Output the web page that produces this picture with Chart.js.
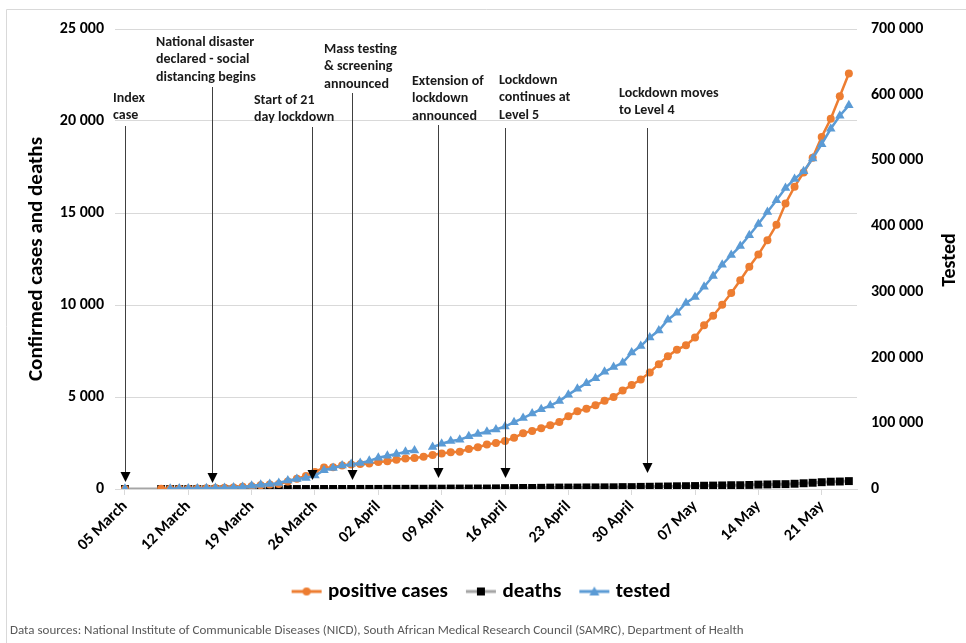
<!DOCTYPE html>
<html>
<head>
<meta charset="utf-8">
<script src="https://cdn.jsdelivr.net/npm/chart.js@4.4.0/dist/chart.umd.min.js"></script>
<style>
  html, body { margin: 0; padding: 0; background: #fff; }
</style>
</head>
<body>
<canvas id="grafica" width="966" height="643"></canvas>
<script>
const FONT = 'Carlito, Calibri, Lato, sans-serif';

// one value per day, day 0 = 05 March 2020 ... day 80 = 24 May 2020
const tickDays = [0, 7, 14, 21, 28, 35, 42, 49, 56, 63, 70, 77];
const tickLabels = ['05 March', '12 March', '19 March', '26 March', '02 April', '09 April',
  '16 April', '23 April', '30 April', '07 May', '14 May', '21 May'];

const positiveCases = [
  1, null, null, null, 7, 7, 13, 16, 24, 38,
  51, 62, 85, 116, 150, 202, 240, 274, 402, 554,
  709, 927, 1170, 1187, 1280, 1326, 1353, 1380, 1462, 1505,
  1585, 1655, 1686, 1749, 1845, 1934, 2003, 2028, 2173, 2272,
  2415, 2506, 2605, 2783, 3034, 3158, 3300, 3465, 3635, 3953,
  4220, 4361, 4546, 4793, 4996, 5350, 5647, 5951, 6336, 6783,
  7220, 7572, 7808, 8232, 8895, 9420, 10015, 10652, 11350, 12074,
  12739, 13524, 14355, 15515, 16433, 17200, 18003, 19137, 20125, 21343,
  22583
];

const deaths = [
  0, null, null, null, 0, 0, 0, 0, 0, 0,
  0, 0, 0, 0, 0, 0, 0, 0, 0, 0,
  0, 0, 1, 2, 3, 3, 5, 5, 5, 9,
  9, 11, 13, 13, 18, 18, 24, 24, 25, 27,
  27, 34, 48, 50, 58, 58, 65, 75, 79, 79,
  79, 86, 87, 90, 93, 103, 103, 116, 123, 131,
  138, 148, 153, 161, 178, 186, 194, 206, 206, 219,
  238, 247, 261, 264, 286, 312, 339, 369, 397, 407,
  429
];

const tested = [
  200, null, null, null, null, 400, 645, 848, 924, 1017,
  1476, 1700, 2405, 2911, 4832, 6438, 7425, 9315, 12815, 15290,
  16770, 20471, 28537, 31963, 35593, 37864, 39746, 42824, 47636, 50734,
  53111, 56873, 58500, null, 63776, 68874, 73028, 75053, 80085, 83663,
  87022, 90515, 95060, 101698, 108021, 114711, 121510, 126937, 133774, 143570,
  152390, 161004, 168643, 178470, 185497, 191965, 207530, 217522, 230686, 241219,
  257541, 268064, 283025, 292153, 307752, 324079, 341336, 356067, 369697, 386085,
  403252, 421531, 439559, 458109, 471675, 483379, 502924, 524765, 548138, 568051,
  583855
];

// arrows: day on the x axis, text lines, text offset and vertical placement
const events = [
  { day: 0,    text: ['Index', 'case'], dx: -12, textY: 98, top: 126, tip: 482 },
  { day: 9.6,  text: ['National disaster', 'declared - social', 'distancing begins'], dx: -56, textY: 42, top: 87, tip: 483 },
  { day: 20.7, text: ['Start of 21', 'day lockdown'], dx: -58, textY: 100, top: 127, tip: 480 },
  { day: 25.1, text: ['Mass testing', '& screening', 'announced'], dx: -28, textY: 49, top: 93, tip: 480 },
  { day: 34.6, text: ['Extension of', 'lockdown', 'announced'], dx: -26, textY: 81, top: 125, tip: 478 },
  { day: 42.0, text: ['Lockdown', 'continues at', 'Level 5'], dx: -6, textY: 80, top: 128, tip: 478 },
  { day: 57.7, text: ['Lockdown moves', 'to Level 4'], dx: -28, textY: 93, top: 128, tip: 473 }
];

const footnote = 'Data sources: National Institute of Communicable Diseases (NICD), South African Medical Research Council (SAMRC), Department of Health';

const toPoints = arr => arr.map((v, i) => ({ x: i, y: v }));
const fmt = v => String(v).replace(/\B(?=(\d{3})+(?!\d))/g, ' ');

function makeIcon(lineColor, marker, markerColor) {
  const c = document.createElement('canvas');
  c.width = 32; c.height = 14;
  const g = c.getContext('2d');
  g.strokeStyle = lineColor; g.lineWidth = 3;
  g.beginPath(); g.moveTo(1, 7); g.lineTo(31, 7); g.stroke();
  g.fillStyle = markerColor;
  g.beginPath();
  if (marker === 'circle') g.arc(16, 7, 4, 0, Math.PI * 2);
  else if (marker === 'rect') g.rect(12, 3, 8, 8);
  else { g.moveTo(16, 2); g.lineTo(21, 11); g.lineTo(11, 11); g.closePath(); }
  g.fill();
  return c;
}
const legendIcons = [
  makeIcon('#ED7D31', 'circle', '#ED7D31'),
  makeIcon('#A5A5A5', 'rect', '#000000'),
  makeIcon('#5B9BD5', 'triangle', '#5B9BD5')
];

const extras = {
  id: 'extras',
  beforeDraw(chart) {
    const ctx = chart.ctx;
    ctx.save();
    ctx.strokeStyle = '#d9d9d9';
    ctx.lineWidth = 1;
    ctx.beginPath();
    ctx.moveTo(6.5, 643); ctx.lineTo(6.5, 9.5); ctx.lineTo(966, 9.5);
    ctx.stroke();
    ctx.restore();
  },
  afterDatasetsDraw(chart) {
    const { ctx, scales: { x } } = chart;
    ctx.save();
    events.forEach(ev => {
      const px = Math.round(x.getPixelForValue(ev.day)) + 0.5;
      ctx.strokeStyle = '#404040';
      ctx.lineWidth = 1;
      ctx.beginPath();
      ctx.moveTo(px, ev.top);
      ctx.lineTo(px, ev.tip - 8);
      ctx.stroke();
      ctx.fillStyle = '#000';
      ctx.beginPath();
      ctx.moveTo(px - 5, ev.tip - 10);
      ctx.lineTo(px + 5, ev.tip - 10);
      ctx.lineTo(px, ev.tip);
      ctx.closePath();
      ctx.fill();
      ctx.fillStyle = '#1a1a1a';
      ctx.font = 'bold 14px ' + FONT;
      ctx.textAlign = 'left';
      ctx.textBaseline = 'middle';
      ev.text.forEach((t, i) => ctx.fillText(t, px - 0.5 + ev.dx, ev.textY + i * 17.5));
    });
    // right axis title
    ctx.save();
    ctx.translate(950, 260);
    ctx.rotate(-Math.PI / 2);
    ctx.font = 'bold 20px ' + FONT;
    ctx.fillStyle = '#000';
    ctx.textAlign = 'center';
    ctx.textBaseline = 'middle';
    ctx.fillText('Tested', 0, 0);
    ctx.restore();
    // footnote
    ctx.font = '13px ' + FONT;
    ctx.fillStyle = '#595959';
    ctx.textAlign = 'left';
    ctx.textBaseline = 'middle';
    ctx.fillText(footnote, 10, 631);
    ctx.restore();
  }
};

const graph = document.querySelector('#grafica');

const data = {
  datasets: [{
    label: 'positive cases',
    data: toPoints(positiveCases),
    yAxisID: 'y',
    borderColor: '#ED7D31',
    backgroundColor: '#ED7D31',
    borderWidth: 2.5,
    pointStyle: 'circle',
    pointRadius: 4,
    pointBorderWidth: 0,
    order: 1
  }, {
    label: 'deaths',
    data: toPoints(deaths),
    yAxisID: 'y',
    borderColor: '#A5A5A5',
    backgroundColor: '#000000',
    pointBackgroundColor: '#000000',
    borderWidth: 3,
    pointStyle: 'rect',
    pointRadius: 5.6,
    pointBorderWidth: 0,
    spanGaps: true,
    order: 2
  }, {
    label: 'tested',
    data: toPoints(tested),
    yAxisID: 'y2',
    borderColor: '#5B9BD5',
    backgroundColor: '#5B9BD5',
    borderWidth: 2.5,
    pointStyle: 'triangle',
    pointRadius: 5.5,
    pointBorderWidth: 0,
    order: 0
  }]
};

const config = {
  type: 'line',
  data: data,
  plugins: [extras],
  options: {
    responsive: false,
    animation: false,
    layout: { padding: { top: 29, left: 0, right: 0, bottom: 31 } },
    plugins: {
      tooltip: { enabled: false },
      legend: {
        position: 'bottom',
        labels: {
          font: { family: FONT, size: 21, weight: 'bold' },
          color: '#000',
          usePointStyle: true,
          pointStyleWidth: 22,
          padding: 22,
          sort: (a, b) => a.datasetIndex - b.datasetIndex,
          generateLabels: chart => Chart.defaults.plugins.legend.labels.generateLabels(chart)
            .map(item => Object.assign(item, { pointStyle: legendIcons[item.datasetIndex] }))
        }
      }
    },
    scales: {
      x: {
        type: 'linear',
        min: -1.1,
        max: 80.9,
        afterBuildTicks: s => { s.ticks = tickDays.map(v => ({ value: v })); },
        afterFit: s => { s.height = 70; },
        ticks: {
          autoSkip: false,
          maxRotation: 45,
          minRotation: 45,
          padding: 2,
          color: '#000',
          font: { family: FONT, size: 16, weight: 'bold' },
          callback: (v, i) => tickLabels[i]
        },
        grid: { drawOnChartArea: false, drawTicks: true, tickLength: 6, color: '#d9d9d9' },
        border: { color: '#d9d9d9', width: 1 }
      },
      y: {
        position: 'left',
        min: 0,
        max: 25000,
        afterFit: s => { s.width = 115; },
        ticks: {
          stepSize: 5000,
          padding: 11,
          color: '#000',
          font: { family: FONT, size: 16, weight: 'bold' },
          callback: v => fmt(v)
        },
        grid: { color: '#d9d9d9', drawTicks: false },
        border: { display: false },
        title: {
          display: true,
          text: 'Confirmed cases and deaths',
          color: '#000',
          font: { family: FONT, size: 21, weight: 'bold' },
          padding: { top: 24, bottom: 0 }
        }
      },
      y2: {
        position: 'right',
        min: 0,
        max: 700000,
        afterFit: s => { s.width = 109; },
        ticks: {
          stepSize: 100000,
          padding: 14,
          color: '#000',
          font: { family: FONT, size: 16, weight: 'bold' },
          callback: v => fmt(v)
        },
        grid: { drawOnChartArea: false, drawTicks: false },
        border: { display: false }
      }
    }
  }
};

new Chart(graph, config);
</script>
</body>
</html>
